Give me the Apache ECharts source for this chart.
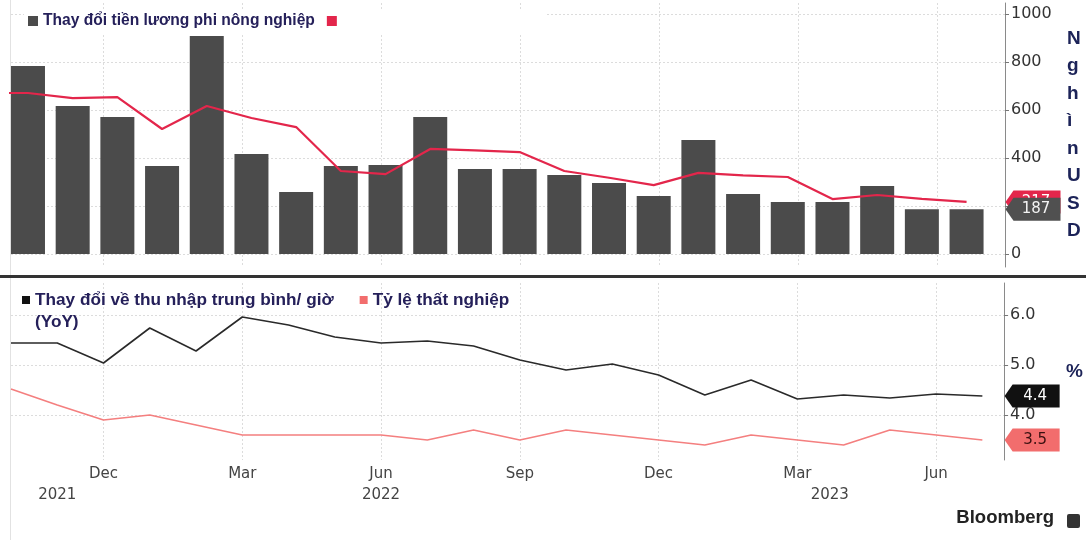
<!DOCTYPE html>
<html><head><meta charset="utf-8">
<script src="https://cdn.jsdelivr.net/npm/echarts@6/dist/echarts.min.js"></script>
<style>html,body{margin:0;padding:0;background:#fff}#c{width:1086px;height:540px}</style>
</head><body><div id="c"></div>
<script>
// ---- data ----
const months = ['2021-10','2021-11','2021-12','2022-01','2022-02','2022-03','2022-04','2022-05','2022-06','2022-07','2022-08','2022-09','2022-10','2022-11','2022-12','2023-01','2023-02','2023-03','2023-04','2023-05','2023-06','2023-07'];
const payrollChange = [783,617,571,367,908,417,258,367,371,571,354,354,329,296,242,475,250,217,217,283,187,187];
const payrollAvgPrevMonth = 671; // Sep 2021, only the stub at the left edge is visible
const payrollAvg = [671,650,654,521,617,567,529,346,333,438,432,425,346,318,287,338,328,321,229,246,230,217];
const earningsYoY = [5.44,5.44,5.04,5.74,5.28,5.96,5.80,5.56,5.44,5.48,5.38,5.10,4.90,5.02,4.80,4.40,4.70,4.32,4.40,4.34,4.42,4.38];
const unemployment = [4.52,4.2,3.9,4.0,3.8,3.6,3.6,3.6,3.6,3.5,3.7,3.5,3.7,3.6,3.5,3.4,3.6,3.5,3.4,3.7,3.6,3.5];
const monthTickMonths = ['2021-12','2022-03','2022-06','2022-09','2022-12','2023-03','2023-06'];
const monthTickLabels = ['Dec','Mar','Jun','Sep','Dec','Mar','Jun'];
const yearLabels = ['2021','2022','2023'];
const yearLabelPos = [1, 8, 17.7];
const payrollTicks = [0,200,400,600,800,1000];
const rateTicks = [4,5,6];
const payName = 'Thay đổi tiền lương phi nông nghiệp';
const avgName = ' ';
const earnName = 'Thay đổi về thu nhập trung bình/ giờ\n(YoY)';
const unempName = 'Tỷ lệ thất nghiệp';
const unitTop = 'Nghìn USD';
const unitBottom = '%';

// ---- layout constants ----
const monthMax = 21.47;
const barMin = -0.38, barMax = 21.86;
const FONT = 'DejaVu Sans';
const LEGEND_FONT = 'Liberation Sans';

const monthPos = monthTickMonths.map(m => months.indexOf(m));
const barData = payrollChange.map((v, i) => [i, v]);
const avgData = [[-1, payrollAvgPrevMonth]].concat(payrollAvg.map((v, i) => [i, v]));
const earnData = earningsYoY.map((v, i) => [i, v]);
const unempData = unemployment.map((v, i) => [i, v]);

function tag(x, y, text, fill, textColor, z) {
  return {
    symbol: 'path://M0,12 L8,0 L55,0 L55,24 L8,24 Z',
    symbolSize: [55, 23],
    symbolKeepAspect: false,
    symbolOffset: [28, 0],
    z: z,
    data: [{ coord: [x, y], value: text }],
    itemStyle: { color: fill },
    label: { show: true, position: 'inside', formatter: text, color: textColor,
             fontFamily: FONT, fontSize: 15, offset: [3, 0] }
  };
}

const gridSplit = { show: true, lineStyle: { color: '#dcdcdc', type: [2, 2], width: 1 } };
const last = a => a[a.length - 1];

const option = {
  animation: false,
  backgroundColor: '#fff',
  grid: [
    { left: 11, right: 81, top: 3, height: 264 },
    { left: 11, right: 81, top: 283, height: 177 }
  ],
  xAxis: [
    { gridIndex: 0, type: 'value', min: 0, max: monthMax,
      axisLine: { show: false, onZero: false }, axisLabel: { show: false },
      axisTick: { show: false, customValues: monthPos }, splitLine: gridSplit },
    { gridIndex: 0, type: 'value', min: barMin, max: barMax, show: false, axisLine: { onZero: false } },
    { gridIndex: 1, type: 'value', min: 0, max: monthMax,
      axisLine: { show: false, onZero: false },
      axisTick: { show: false, customValues: monthPos },
      axisLabel: { customValues: monthPos, margin: 7, color: '#444', fontFamily: FONT, fontSize: 15,
        formatter: v => monthTickLabels[monthPos.indexOf(Math.round(v))] || '' },
      splitLine: gridSplit },
    { gridIndex: 1, type: 'value', min: 0, max: monthMax, position: 'bottom',
      axisLine: { show: false, onZero: false }, axisTick: { show: false }, splitLine: { show: false },
      axisLabel: { customValues: yearLabelPos, margin: 28, color: '#444', fontFamily: FONT, fontSize: 15,
        formatter: v => { const k = yearLabelPos.findIndex(p => Math.abs(p - v) < 1e-6); return k >= 0 ? yearLabels[k] : ''; } } }
  ],
  yAxis: [
    { gridIndex: 0, type: 'value', position: 'right', min: -54, max: 1046,
      axisLine: { show: true, onZero: false, lineStyle: { color: '#8a8a8a', width: 1 } },
      axisTick: { show: true, customValues: payrollTicks, length: 4, lineStyle: { color: '#777' } },
      axisLabel: { customValues: payrollTicks, margin: 6, color: '#333', fontFamily: FONT, fontSize: 16,
        formatter: v => String(v) },
      splitLine: gridSplit,
      name: unitTop.replace(/\s/g, '').split('').join('\n'),
      nameLocation: 'middle', nameRotate: 0, nameGap: 62,
      nameTextStyle: { color: '#1c2358', fontFamily: LEGEND_FONT, fontWeight: 'bold', fontSize: 19, lineHeight: 27.5, align: 'left', padding: [0, 0, 6, 0] } },
    { gridIndex: 1, type: 'value', position: 'right', min: 3.1, max: 6.64,
      axisLine: { show: true, onZero: false, lineStyle: { color: '#8a8a8a', width: 1 } },
      axisTick: { show: true, customValues: rateTicks, length: 4, lineStyle: { color: '#777' } },
      axisLabel: { customValues: rateTicks, margin: 6, color: '#333', fontFamily: FONT, fontSize: 16,
        formatter: v => v.toFixed(1) },
      splitLine: gridSplit,
      name: unitBottom, nameLocation: 'middle', nameRotate: 0, nameGap: 62,
      nameTextStyle: { color: '#1c2358', fontFamily: LEGEND_FONT, fontWeight: 'bold', fontSize: 19, align: 'left', padding: [0, 0, 6, 0] } }
  ],
  legend: [
    { left: 24, top: 9, itemWidth: 10, itemHeight: 10, itemGap: 12, icon: 'rect',
      backgroundColor: '#fff', padding: [4, 200, 4, 4],
      data: [payName, avgName],
      textStyle: { color: '#25205a', fontFamily: LEGEND_FONT, fontWeight: 'bold', fontSize: 15.6 } },
    { left: 18, top: 265, itemWidth: 8, itemHeight: 8, itemGap: 26, icon: 'rect',
      padding: [2, 6, 2, 4],
      data: [earnName, unempName],
      formatter: n => (n === earnName ? '\n' + n : n),
      textStyle: { color: '#25205a', fontFamily: LEGEND_FONT, fontWeight: 'bold', fontSize: 17.2, lineHeight: 22 } }
  ],
  title: {
    text: 'Bloomberg', right: 27, bottom: 8,
    textStyle: { fontFamily: LEGEND_FONT, fontWeight: 'bold', fontSize: 18.5, color: '#222' }
  },
  graphic: [
    { type: 'rect', left: 0, top: 275, shape: { width: 1086, height: 3 }, style: { fill: '#333' }, z: 10 },
    { type: 'line', shape: { x1: 10.5, y1: 0, x2: 10.5, y2: 540 }, style: { stroke: '#e2e2e2', lineWidth: 1 }, z: 1 },
    { type: 'rect', right: 6, bottom: 12, shape: { width: 13, height: 14, r: 2 }, style: { fill: '#333' } }
  ],
  series: [
    { name: payName, type: 'bar', xAxisIndex: 1, yAxisIndex: 0, data: barData,
      barWidth: 34, itemStyle: { color: '#4b4b4b' }, z: 2,
      markPoint: tag(barMax, last(payrollChange), String(last(payrollChange)), '#505050', '#f2f2f2', 7) },
    { name: avgName, type: 'line', xAxisIndex: 1, yAxisIndex: 0, data: avgData,
      showSymbol: false, clip: true, lineStyle: { color: '#e3264b', width: 2.2 }, itemStyle: { color: '#e3264b' }, z: 3,
      markPoint: tag(barMax, last(payrollAvg), String(last(payrollAvg)), '#e3264b', '#fff', 6) },
    { name: earnName, type: 'line', xAxisIndex: 2, yAxisIndex: 1, data: earnData,
      showSymbol: false, lineStyle: { color: '#2a2a2a', width: 1.6 }, itemStyle: { color: '#111' }, z: 3,
      markPoint: tag(monthMax, last(earningsYoY), last(earningsYoY).toFixed(1), '#111', '#fff', 7) },
    { name: unempName, type: 'line', xAxisIndex: 2, yAxisIndex: 1, data: unempData,
      showSymbol: false, lineStyle: { color: '#f47f7f', width: 1.6 }, itemStyle: { color: '#f26d6d' }, z: 3,
      markPoint: tag(monthMax, last(unemployment), last(unemployment).toFixed(1), '#f26d6d', '#3a1010', 7) }
  ]
};
const chart = echarts.init(document.getElementById('c'), null, { renderer: 'canvas' });
chart.setOption(option);
</script></body></html>
